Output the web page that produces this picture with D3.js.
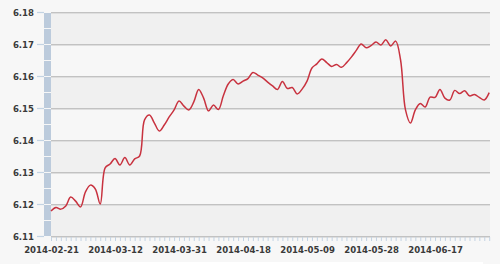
<!DOCTYPE html>
<html>
<head>
<meta charset="utf-8">
<script src="https://cdnjs.cloudflare.com/ajax/libs/d3/7.8.5/d3.min.js"></script>
<style>
  body { margin: 0; background: #f7f7f7; }
  svg { display: block; }
  .lbl text { font-family: "DejaVu Sans Condensed", "DejaVu Sans", Verdana, sans-serif; font-weight: bold; font-size: 9.5px; fill: #3a3a3a; }
</style>
</head>
<body>
<div id="chart"></div>
<script>
var width = 500,
  height = 264;

// trading days
var dates = [
  "2014-02-21", "2014-02-24", "2014-02-25", "2014-02-26", "2014-02-27", "2014-02-28",
  "2014-03-03", "2014-03-04", "2014-03-05", "2014-03-06", "2014-03-07",
  "2014-03-10", "2014-03-11", "2014-03-12", "2014-03-13", "2014-03-14",
  "2014-03-17", "2014-03-18", "2014-03-19", "2014-03-20", "2014-03-21",
  "2014-03-24", "2014-03-25", "2014-03-26", "2014-03-27", "2014-03-28", "2014-03-31",
  "2014-04-01", "2014-04-02", "2014-04-03", "2014-04-04",
  "2014-04-08", "2014-04-09", "2014-04-10", "2014-04-11",
  "2014-04-14", "2014-04-15", "2014-04-16", "2014-04-17", "2014-04-18",
  "2014-04-21", "2014-04-22", "2014-04-23", "2014-04-24", "2014-04-25",
  "2014-04-28", "2014-04-29", "2014-04-30",
  "2014-05-05", "2014-05-06", "2014-05-07", "2014-05-08", "2014-05-09",
  "2014-05-12", "2014-05-13", "2014-05-14", "2014-05-15", "2014-05-16",
  "2014-05-19", "2014-05-20", "2014-05-21", "2014-05-22", "2014-05-23",
  "2014-05-26", "2014-05-27", "2014-05-28", "2014-05-29", "2014-05-30",
  "2014-06-03", "2014-06-04", "2014-06-05", "2014-06-06",
  "2014-06-09", "2014-06-10", "2014-06-11", "2014-06-12", "2014-06-13",
  "2014-06-16", "2014-06-17", "2014-06-18", "2014-06-19", "2014-06-20",
  "2014-06-23", "2014-06-24", "2014-06-25", "2014-06-26", "2014-06-27",
  "2014-06-30", "2014-07-01", "2014-07-02"
];

var rates = [
  6.1178, 6.1189, 6.1184, 6.1194, 6.1222, 6.1209,
  6.1191, 6.1238, 6.1259, 6.1247, 6.1200,
  6.1313, 6.1325, 6.1342, 6.1322, 6.1345,
  6.1322, 6.1341, 6.1350, 6.1463, 6.1478,
  6.1453, 6.1428, 6.1447, 6.1472, 6.1494, 6.1522,
  6.1506, 6.1494, 6.1519, 6.1558,
  6.1531, 6.1491, 6.1509, 6.1495,
  6.1538, 6.1575, 6.1589, 6.1575, 6.1584,
  6.1592, 6.1611, 6.1603, 6.1594, 6.1581,
  6.1569, 6.1558, 6.1583,
  6.1561, 6.1564, 6.1544, 6.1559, 6.1584,
  6.1625, 6.1638, 6.1653, 6.1642, 6.1630,
  6.1636, 6.1627, 6.1641, 6.1659, 6.1680,
  6.1700, 6.1688, 6.1695, 6.1706, 6.1697,
  6.1713, 6.1694, 6.1709, 6.1650,
  6.1494, 6.1453, 6.1494, 6.1514, 6.1503,
  6.1534, 6.1533, 6.1558, 6.1531, 6.1525,
  6.1555, 6.1545, 6.1554, 6.1538, 6.1542,
  6.1533, 6.1525, 6.1548
];

var yTicks = [6.11, 6.12, 6.13, 6.14, 6.15, 6.16, 6.17, 6.18];
var xLabels = ["2014-02-21", "2014-03-12", "2014-03-31", "2014-04-18", "2014-05-09", "2014-05-28", "2014-06-17"];

var plotLeft = 51, plotRight = 490, plotTop = 12, plotBottom = 236;

var x = d3.scalePoint()
  .domain(dates)
  .range([plotLeft, 489.2]);

var y = d3.scaleLinear()
  .domain([6.11, 6.18])
  .range([plotBottom, plotTop]);

var svg = d3.select('#chart').append('svg')
  .attr('width', width)
  .attr('height', height);

svg.append('rect')
  .attr('width', width).attr('height', height)
  .attr('fill', '#f7f7f7');

// alternating bands
svg.selectAll('.band')
  .data(yTicks.slice(0, -1).filter(function(d, i) { return i % 2 == 0; }))
  .enter().append('rect').classed('band', true)
  .attr('x', plotLeft)
  .attr('width', plotRight - plotLeft)
  .attr('y', function(d) { return y(d + 0.01); })
  .attr('height', function(d) { return y(d) - y(d + 0.01); })
  .attr('fill', '#f0f0f0');

// grid lines
svg.selectAll('.grid')
  .data(yTicks)
  .enter().append('line').classed('grid', true)
  .attr('x1', plotLeft).attr('x2', plotRight)
  .attr('y1', function(d) { return Math.round(y(d)) + 0.5; })
  .attr('y2', function(d) { return Math.round(y(d)) + 0.5; })
  .attr('stroke', '#c2c2c2')
  .attr('stroke-width', 1);

svg.selectAll('.grid2')
  .data(yTicks)
  .enter().append('line').classed('grid2', true)
  .attr('x1', plotLeft).attr('x2', plotRight)
  .attr('y1', function(d) { return Math.round(y(d)) + 1.5; })
  .attr('y2', function(d) { return Math.round(y(d)) + 1.5; })
  .attr('stroke', '#dedede')
  .attr('stroke-width', 1);

// blue bar on the left, split at every half step
var halfSteps = d3.range(0, 14).map(function(i) { return 6.11 + i * 0.005; });
svg.selectAll('.seg')
  .data(halfSteps)
  .enter().append('rect').classed('seg', true)
  .attr('x', 44)
  .attr('width', 7)
  .attr('y', function(d) { return y(d + 0.005) + 1; })
  .attr('height', function(d) { return y(d) - y(d + 0.005) - 1; })
  .attr('fill', '#bccbdc');

// y axis
var yAxis = svg.append('g')
  .attr('class', 'lbl')
  .attr('transform', 'translate(44,0)')
  .call(d3.axisLeft(y).tickValues(yTicks).tickSize(7).tickPadding(3).tickFormat(d3.format('.2f')));
yAxis.select('.domain').remove();
yAxis.selectAll('line').attr('stroke', '#c3d3e3').attr('stroke-width', 1.2);

// minor ticks on x
var xMinor = svg.append('g')
  .attr('transform', 'translate(0,' + (plotBottom + 1) + ')')
  .call(d3.axisBottom(x).tickSize(4).tickFormat(''));
xMinor.select('.domain').remove();
xMinor.selectAll('line').attr('stroke', '#c3d3e3');

var xAxis = svg.append('g')
  .attr('class', 'lbl')
  .attr('transform', 'translate(0,' + plotBottom + ')')
  .call(d3.axisBottom(x).tickValues(xLabels).tickSize(0).tickPadding(10));
xAxis.select('.domain').remove();

// line
var line = d3.line()
  .x(function(d, i) { return x(dates[i]); })
  .y(function(d) { return y(d); })
  .curve(d3.curveCatmullRom.alpha(0.5));

svg.append('path')
  .datum(rates)
  .attr('d', line)
  .attr('fill', 'none')
  .attr('stroke', '#c8323f')
  .attr('stroke-width', 1.5);

// white strip at the bottom edge
svg.append('rect')
  .attr('x', 40).attr('y', 262)
  .attr('width', 443).attr('height', 2)
  .attr('fill', '#ffffff');
</script>
</body>
</html>
